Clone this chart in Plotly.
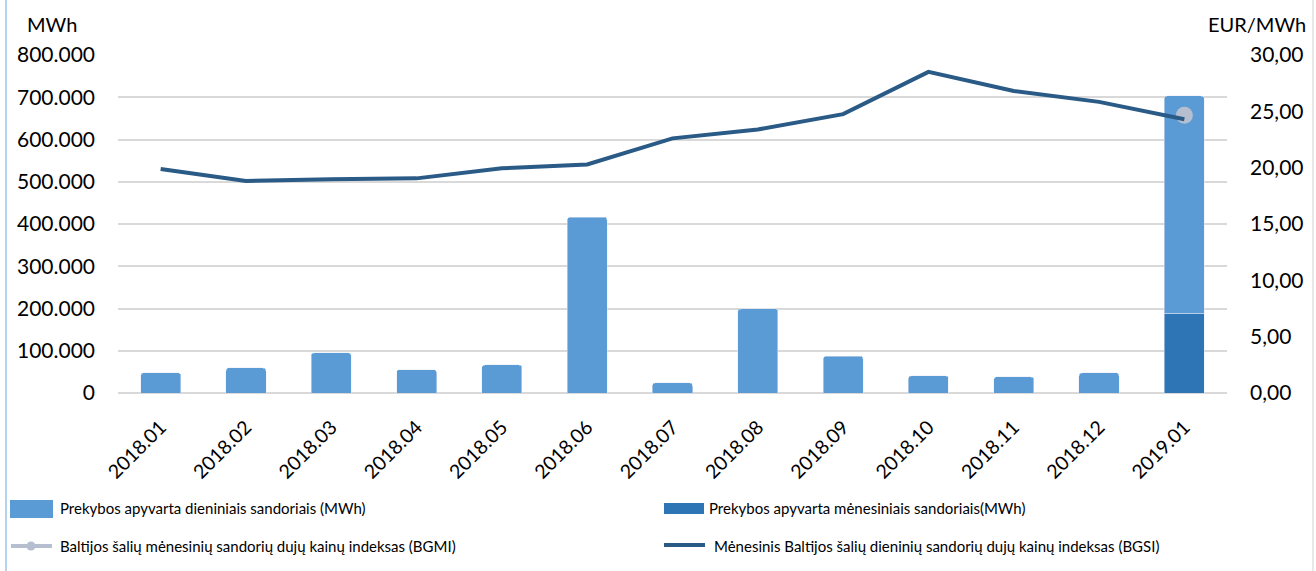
import plotly.graph_objects as go

months = ["2018.01", "2018.02", "2018.03", "2018.04", "2018.05", "2018.06", "2018.07",
          "2018.08", "2018.09", "2018.10", "2018.11", "2018.12", "2019.01"]
daily_turnover = [48000, 59500, 95000, 55500, 66500, 416000, 24000,
                  199500, 87000, 40600, 38000, 47700, 514000]
monthly_turnover = [None, None, None, None, None, None, None,
                    None, None, None, None, None, 189000]
bgsi = [19.88, 18.82, 18.97, 19.05, 19.94, 20.29, 22.60,
        23.39, 24.75, 28.50, 26.80, 25.84, 24.30]
bgmi = [None, None, None, None, None, None, None,
        None, None, None, None, None, 24.66]

legend_labels = [
    "Prekybos apyvarta dieniniais sandoriais (MWh)",
    "Prekybos apyvarta mėnesiniais sandoriais(MWh)",
    "Baltijos šalių mėnesinių sandorių dujų kainų indeksas (BGMI)",
    "Mėnesinis Baltijos šalių dieninių sandorių dujų kainų indeksas (BGSI)",
]

FONT = "Lato"
C_LIGHT = "#5B9BD5"
C_DARK = "#2E75B6"
C_LINE = "#2A5A86"
C_GREY = "#B6BFCF"

fig = go.Figure()
fig.add_trace(go.Bar(x=months, y=monthly_turnover, name=legend_labels[1],
                     marker=dict(color=C_DARK, cornerradius=3), yaxis="y"))
fig.add_trace(go.Bar(x=months, y=daily_turnover, name=legend_labels[0],
                     marker=dict(color=C_LIGHT, cornerradius=3), yaxis="y"))
fig.add_trace(go.Scatter(x=months, y=bgmi, name=legend_labels[2], mode="markers",
                         marker=dict(color=C_GREY, size=17), yaxis="y2"))
fig.add_trace(go.Scatter(x=months, y=bgsi, name=legend_labels[3], mode="lines",
                         line=dict(color=C_LINE, width=4), yaxis="y2"))

L, R, T, B = 118, 89, 55, 178
W, H = 1316, 571
pw, ph = W - L - R, H - T - B

def px(x):
    return (x - L) / pw

def py(y):
    return (H - B - y) / ph

shapes = [
    dict(type="line", xref="paper", yref="paper", x0=px(6), x1=px(6), y0=py(571), y1=py(0),
         line=dict(color="#9DC3E6", width=1.5)),
    dict(type="line", xref="paper", yref="paper", x0=px(1313), x1=px(1313), y0=py(571), y1=py(0),
         line=dict(color="#D0D0D0", width=1)),
    # legend symbols
    dict(type="rect", xref="paper", yref="paper", x0=px(10), x1=px(53), y0=py(518), y1=py(500),
         fillcolor=C_LIGHT, line=dict(width=0)),
    dict(type="rect", xref="paper", yref="paper", x0=px(664), x1=px(704), y0=py(514), y1=py(503),
         fillcolor=C_DARK, line=dict(width=0)),
    dict(type="line", xref="paper", yref="paper", x0=px(11), x1=px(52), y0=py(546), y1=py(546),
         line=dict(color=C_GREY, width=4)),
    dict(type="circle", xref="paper", yref="paper", x0=px(26.5), x1=px(35.5), y0=py(550.5), y1=py(541.5),
         fillcolor=C_GREY, line=dict(width=0)),
    dict(type="line", xref="paper", yref="paper", x0=px(664), x1=px(705), y0=py(545), y1=py(545),
         line=dict(color=C_LINE, width=4)),
]

legend_font = dict(family=FONT, size=15, color="#000000")
annotations = [
    dict(text="MWh", xref="paper", yref="paper", x=px(25), y=py(24), xanchor="left", yanchor="middle",
         showarrow=False, font=dict(family=FONT, size=20, color="#000000")),
    dict(text="EUR/MWh", xref="paper", yref="paper", x=px(1308), y=py(24), xanchor="right", yanchor="middle",
         showarrow=False, font=dict(family=FONT, size=20, color="#000000")),
    dict(text=legend_labels[0], xref="paper", yref="paper", x=px(58), y=py(508), xanchor="left",
         yanchor="middle", showarrow=False, font=legend_font),
    dict(text=legend_labels[1], xref="paper", yref="paper", x=px(707), y=py(508), xanchor="left",
         yanchor="middle", showarrow=False, font=legend_font),
    dict(text=legend_labels[2], xref="paper", yref="paper", x=px(58), y=py(546), xanchor="left",
         yanchor="middle", showarrow=False, font=legend_font),
    dict(text=legend_labels[3], xref="paper", yref="paper", x=px(712), y=py(546), xanchor="left",
         yanchor="middle", showarrow=False, font=legend_font),
]

fig.update_layout(
    width=W, height=H,
    margin=dict(l=L, r=R, t=T, b=B, pad=0, autoexpand=False),
    paper_bgcolor="white", plot_bgcolor="white",
    barmode="stack", bargap=0.53,
    separators=",.",
    showlegend=False,
    font=dict(family=FONT, size=20, color="#000000"),
    xaxis=dict(type="category", range=[-0.5, len(months) - 0.5], tickangle=-45, showgrid=False,
               ticks="", showline=False, automargin=False,
               tickfont=dict(family=FONT, size=19.5), ticklabelstandoff=18),
    yaxis=dict(range=[0, 800000], dtick=100000, tickformat=",d", showgrid=True,
               gridcolor="#D9D9D9", gridwidth=1.5, zeroline=True, zerolinecolor="#D9D9D9",
               zerolinewidth=1.5, showline=False, ticks="", ticklabelstandoff=22, automargin=False,
               tickfont=dict(family=FONT, size=21)),
    yaxis2=dict(range=[0, 30], dtick=5, tickformat=".2f", overlaying="y", side="right",
                showgrid=False, zeroline=False, showline=False, ticks="", ticklabelstandoff=22,
                automargin=False, tickfont=dict(family=FONT, size=21)),
    shapes=shapes,
    annotations=annotations,
)

fig.write_html("out.html", config={"displayModeBar": False},
               post_script="document.body.style.margin='0';")
